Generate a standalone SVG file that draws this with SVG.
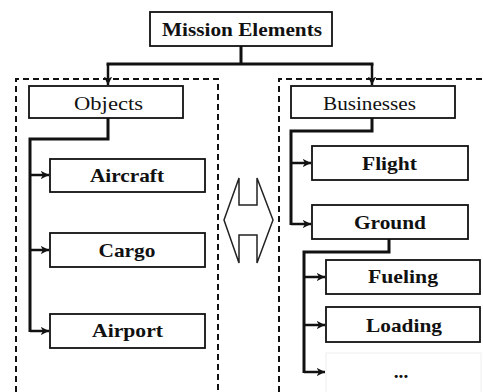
<svg xmlns="http://www.w3.org/2000/svg" width="483" height="392" viewBox="0 0 483 392">
<defs>
<marker id="ah" viewBox="0 0 10 10" refX="10" refY="5" markerWidth="3.4" markerHeight="3.4" markerUnits="strokeWidth" orient="auto">
<path d="M0,0 L10,5 L0,10 L3,5 Z" fill="#111"/>
</marker>
<style>
.box{fill:#fff;stroke:#111;stroke-width:1.8}
.t{font-family:"Liberation Serif","Times New Roman",serif;font-size:19.5px;font-weight:bold;fill:#111;text-anchor:middle}
.r{font-weight:normal}
.c{fill:none;stroke:#111;stroke-width:3}
.a{fill:none;stroke:#111;stroke-width:2.5;marker-end:url(#ah)}
.d{fill:none;stroke:#111;stroke-width:2;stroke-dasharray:6,4}
</style>
</defs>
<rect width="483" height="392" fill="#fff"/>
<g id="groups">
<path class="d" d="M16,392 V79 H218 V392"/>
<path class="d" d="M279,392 V79 H486"/>
</g>
<g id="double-arrow">
<path d="M224,220 L239,178 L239,205 L257,205 L257,178 L273,220 L257,263 L257,235 L239,235 L239,263 Z" fill="#fff" stroke="#222" stroke-width="1.5" stroke-linejoin="miter"/>
</g>
<g id="connectors">
<path class="c" d="M241,46 V64 M106.5,64 H373.5"/>
<path class="a" d="M108,64 V85"/>
<path class="a" d="M372,64 V85"/>
<path class="c" d="M108,118 V139 H30 V332"/>
<path class="a" d="M30,175 H49"/>
<path class="a" d="M30,250 H49"/>
<path class="a" d="M30,331 H49"/>
<path class="c" d="M372,118 V131 H291 V225"/>
<path class="a" d="M291,163 H311"/>
<path class="a" d="M291,224 H311"/>
<path class="c" d="M389,239 V252 H304 V373"/>
<path class="a" d="M304,277 H325"/>
<path class="a" d="M304,325 H325"/>
<path class="a" d="M304,372 H325"/>
</g>
<g id="mission-elements">
<rect class="box" x="150" y="12" width="182" height="34"/>
<text class="t" x="242" y="36" textLength="160" lengthAdjust="spacingAndGlyphs">Mission Elements</text>
</g>
<g id="objects">
<rect class="box" x="29" y="86" width="154" height="32"/>
<text class="t r" x="108.5" y="109.5" textLength="69" lengthAdjust="spacingAndGlyphs">Objects</text>
</g>
<g id="businesses">
<rect class="box" x="291" y="86" width="164" height="32"/>
<text class="t r" x="369.5" y="109.5" textLength="93" lengthAdjust="spacingAndGlyphs">Businesses</text>
</g>
<g id="aircraft">
<rect class="box" x="50" y="159" width="155" height="33"/>
<text class="t" x="127" y="182" textLength="74" lengthAdjust="spacingAndGlyphs">Aircraft</text>
</g>
<g id="cargo">
<rect class="box" x="50" y="233" width="155" height="34"/>
<text class="t" x="127" y="257" textLength="57" lengthAdjust="spacingAndGlyphs">Cargo</text>
</g>
<g id="airport">
<rect class="box" x="50" y="314" width="155" height="34"/>
<text class="t" x="127.5" y="337" textLength="71" lengthAdjust="spacingAndGlyphs">Airport</text>
</g>
<g id="flight">
<rect class="box" x="312" y="146" width="156" height="34"/>
<text class="t" x="389.5" y="170" textLength="55" lengthAdjust="spacingAndGlyphs">Flight</text>
</g>
<g id="ground">
<rect class="box" x="312" y="205" width="156" height="34"/>
<text class="t" x="390" y="229" textLength="72" lengthAdjust="spacingAndGlyphs">Ground</text>
</g>
<g id="fueling">
<rect class="box" x="326" y="260" width="154" height="34"/>
<text class="t" x="403" y="283" textLength="70" lengthAdjust="spacingAndGlyphs">Fueling</text>
</g>
<g id="loading">
<rect class="box" x="326" y="307" width="154" height="35"/>
<text class="t" x="404" y="332" textLength="76" lengthAdjust="spacingAndGlyphs">Loading</text>
</g>
<g id="more">
<rect x="326" y="353" width="155" height="40" fill="#fff" stroke="#eee" stroke-width="1"/>
<text class="t" x="401" y="378">...</text>
</g>
</svg>
